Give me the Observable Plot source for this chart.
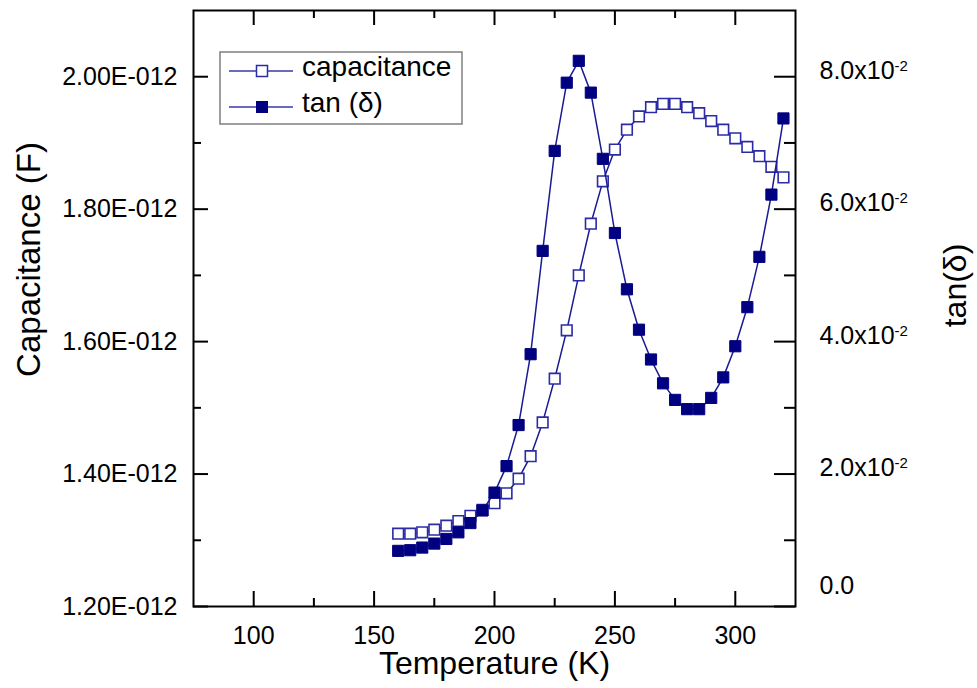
<!DOCTYPE html>
<html><head><meta charset="utf-8">
<script src="https://cdn.jsdelivr.net/npm/d3@7"></script>
<script src="https://cdn.jsdelivr.net/npm/@observablehq/plot@0.6"></script>
<style>
body{margin:0;background:#fff;}
#wrap{position:relative;width:977px;height:688px;}
#legend{position:absolute;left:0;top:0;pointer-events:none;}
</style></head>
<body><div id="wrap"></div>
<script>
// ---- data ----
const temperature = [160,165,170,175,180,185,190,195,200,205,210,215,220,225,230,235,240,245,250,255,260,265,270,275,280,285,290,295,300,305,310,315,320];
const capacitance = [1.310e-12,1.310e-12,1.312e-12,1.316e-12,1.322e-12,1.329e-12,1.337e-12,1.346e-12,1.356e-12,1.371e-12,1.393e-12,1.427e-12,1.478e-12,1.544e-12,1.617e-12,1.700e-12,1.778e-12,1.842e-12,1.890e-12,1.920e-12,1.940e-12,1.954e-12,1.959e-12,1.959e-12,1.954e-12,1.945e-12,1.933e-12,1.920e-12,1.907e-12,1.894e-12,1.880e-12,1.864e-12,1.848e-12];
const tanDelta = [0.0084,0.0085,0.0089,0.0095,0.0102,0.0112,0.0126,0.0145,0.0172,0.0212,0.0274,0.0381,0.0537,0.0688,0.0791,0.0824,0.0776,0.0676,0.0564,0.0479,0.0418,0.0373,0.0337,0.0312,0.0298,0.0298,0.0315,0.0346,0.0393,0.0452,0.0528,0.0622,0.0737];

const xMajorTicks = [100,150,200,250,300];
const xMinorTicks = [125,175,225,275];
const capMajorTicks = [1.2e-12,1.4e-12,1.6e-12,1.8e-12,2.0e-12];
const capMinorTicks = [1.3e-12,1.5e-12,1.7e-12,1.9e-12];
const tanMajorTicks = [0,0.02,0.04,0.06,0.08];
const tanMinorTicks = [0.01,0.03,0.05,0.07];
const seriesNames = ["capacitance","tan (\u03b4)"];

// ---- scales ----
const xDomain = [75,325];
const capDomain = [1.2e-12,2.1e-12];
const tanDomain = [0,0.09];
const tanToY = t => capDomain[0] + (t - tanDomain[0]) * (capDomain[1]-capDomain[0]) / (tanDomain[1]-tanDomain[0]);
const yToTan = y => tanDomain[0] + (y - capDomain[0]) * (tanDomain[1]-tanDomain[0]) / (capDomain[1]-capDomain[0]);

const rows = temperature.map((T,i) => ({T, C: capacitance[i], tanY: tanToY(tanDelta[i])}));

const W = 977, H = 688, mL = 193, mR = 182, mT = 10, mB = 82;
const pW = W - mL - mR, pH = H - mT - mB;
const navy = "#000080", lineCol = "#1a1a94", openCol = "#2b2ba6";
const font = "'Liberation Sans', Arial, Helvetica, sans-serif";

const plot = Plot.plot({
  width: W, height: H,
  marginLeft: mL, marginRight: mR, marginTop: mT, marginBottom: mB,
  x: {domain: xDomain},
  y: {domain: capDomain},
  style: {fontFamily: font, background: "white", color: "black"},
  marks: [
    Plot.line(rows, {x: "T", y: "C", stroke: lineCol, strokeWidth: 1.5}),
    Plot.dot(rows, {x: "T", y: "C", symbol: "square", r: 6, fill: "white", stroke: openCol, strokeWidth: 1.6}),
    Plot.line(rows, {x: "T", y: "tanY", stroke: lineCol, strokeWidth: 1.5}),
    Plot.dot(rows, {x: "T", y: "tanY", symbol: "square", r: 6.3, fill: navy, stroke: navy, strokeWidth: 1}),
    // inward ticks
    Plot.tickX(xMajorTicks, {x: d => d, insetTop: pH - 15, stroke: "black", strokeWidth: 2}),
    Plot.tickX(xMajorTicks, {x: d => d, insetBottom: pH - 15, stroke: "black", strokeWidth: 2}),
    Plot.tickX(xMinorTicks, {x: d => d, insetTop: pH - 8, stroke: "black", strokeWidth: 2}),
    Plot.tickX(xMinorTicks, {x: d => d, insetBottom: pH - 8, stroke: "black", strokeWidth: 2}),
    Plot.tickY(capMajorTicks, {y: d => d, insetRight: pW - 15, stroke: "black", strokeWidth: 2}),
    Plot.tickY(capMinorTicks, {y: d => d, insetRight: pW - 8, stroke: "black", strokeWidth: 2}),
    Plot.tickY(tanMajorTicks.map(tanToY), {y: d => d, insetLeft: pW - 21, stroke: "black", strokeWidth: 2}),
    Plot.tickY(tanMinorTicks.map(tanToY), {y: d => d, insetLeft: pW - 11, stroke: "black", strokeWidth: 2}),
    // tick labels
    Plot.axisX({anchor: "bottom", ticks: xMajorTicks, tickSize: 0, tickPadding: 20, fontSize: 25, label: null, tickFormat: d => String(d)}),
    Plot.axisY({anchor: "left", ticks: capMajorTicks, tickSize: 0, tickPadding: 16, fontSize: 25, label: null,
      tickFormat: d => (d * 1e12).toFixed(2) + "E-012"}),
    Plot.axisY({anchor: "right", ticks: tanMajorTicks.map(tanToY), tickSize: 0, tickPadding: 24, fontSize: 25, label: null, dy: -6,
      tickFormat: d => { const t = yToTan(d); return Math.abs(t) < 1e-9 ? "0.0" : (t * 100).toFixed(1) + "x10^-2"; }}),
    // axis titles
    Plot.text(["Temperature (K)"], {text: d => d, frameAnchor: "bottom", textAnchor: "middle", dy: 67, fontSize: 32}),
    Plot.text(["Capacitance (F)"], {text: d => d, frameAnchor: "left", textAnchor: "middle", dx: -164, dy: -49, rotate: -90, fontSize: 33}),
    Plot.text(["tan(\u03b4)"], {text: d => d, frameAnchor: "right", textAnchor: "middle", dx: 160, dy: -23, rotate: -90, fontSize: 32}),
    Plot.frame({stroke: "black", strokeWidth: 2})
  ]
});

// superscripts for the right axis labels; lift the "0.0" label as in the reference
plot.querySelectorAll("text, tspan").forEach(el => {
  if (el.children.length === 0 && el.textContent.includes("^")) {
    const [base, sup] = el.textContent.split("^");
    el.textContent = base;
    const ts = document.createElementNS("http://www.w3.org/2000/svg", "tspan");
    ts.setAttribute("dy", "-8");
    ts.setAttribute("font-size", "15");
    ts.textContent = sup;
    el.appendChild(ts);
  } else if (el.children.length === 0 && el.textContent === "0.0") {
    el.setAttribute("transform", (el.getAttribute("transform") || "") + " translate(0,-15)");
  }
});

document.getElementById("wrap").appendChild(plot);

// ---- legend ----
const leg = d3.select("#wrap").append("svg").attr("id", "legend").attr("width", W).attr("height", H)
  .style("font-family", font);
leg.append("rect").attr("x", 220).attr("y", 52).attr("width", 242).attr("height", 72)
  .attr("fill", "white").attr("stroke", "#7f7f7f").attr("stroke-width", 1.5);
const entries = [
  {name: seriesNames[0], cy: 71, fill: "white", stroke: openCol, sw: 1.5},
  {name: seriesNames[1], cy: 107, fill: navy, stroke: navy, sw: 1}
];
entries.forEach(e => {
  leg.append("line").attr("x1", 229).attr("x2", 293).attr("y1", e.cy).attr("y2", e.cy)
    .attr("stroke", "#3a3aa8").attr("stroke-width", 1.5);
  leg.append("rect").attr("x", 262 - 5.5).attr("y", e.cy - 5.5).attr("width", 11).attr("height", 11)
    .attr("fill", e.fill).attr("stroke", e.stroke).attr("stroke-width", e.sw);
  leg.append("text").attr("x", 302).attr("y", e.cy + 5).attr("font-size", 28).attr("fill", "black").text(e.name);
});
</script>
</body></html>
